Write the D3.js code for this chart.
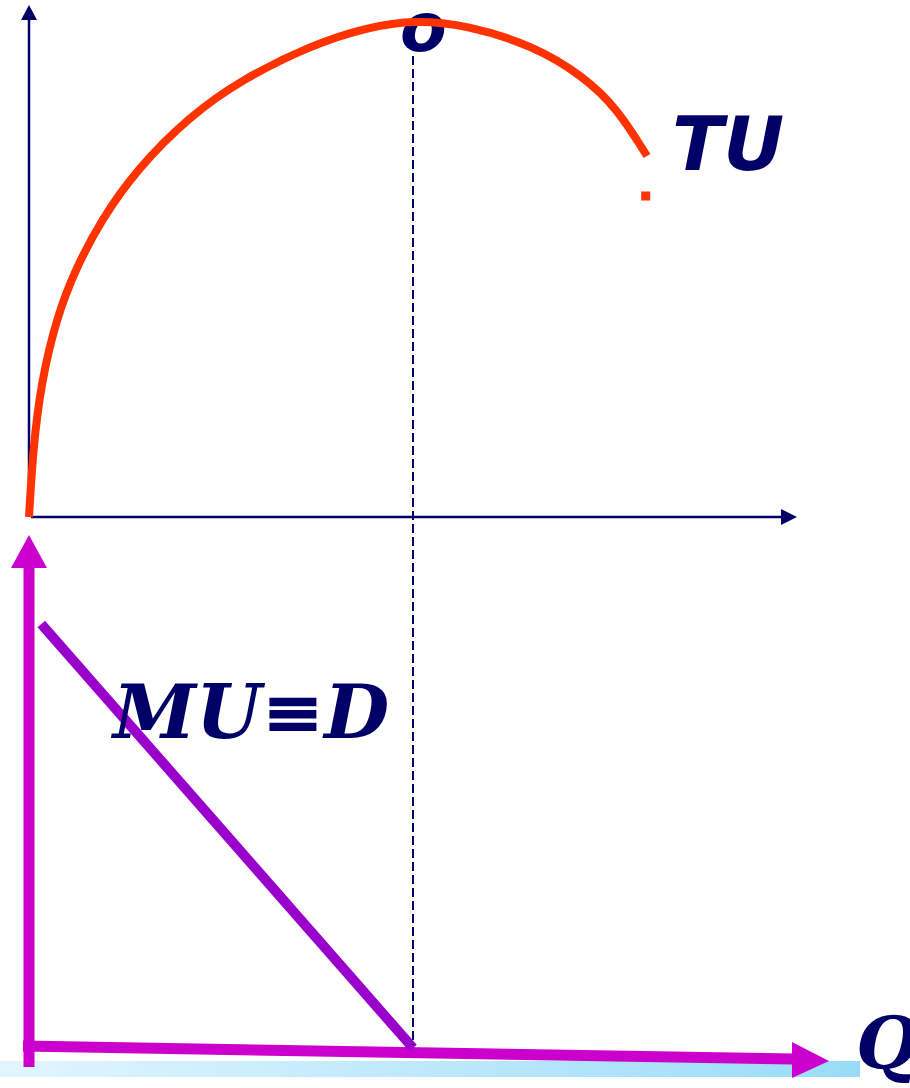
<!DOCTYPE html>
<html><head><meta charset="utf-8">
<script src="https://cdn.jsdelivr.net/npm/d3@7"></script>
<style>html,body{margin:0;padding:0;background:#fff;}svg{display:block;}</style>
</head><body>
<svg id="c" width="910" height="1088"></svg>
<script>
// ---- data ----
const tuQ = [0, 0.052, 0.156, 0.365, 0.612, 0.94, 1.406, 2.096, 2.76, 3.672, 4.414, 5.026, 5.703, 6.563, 7.214, 7.656, 8.047];
const tuU = [0, 13.4, 26.8, 40.2, 49.8, 59.4, 69.6, 80.2, 87.4, 94.4, 98, 99.4, 98.4, 94.3, 88.2, 81.8, 72.2];
const dotQ = [8.03];
const dotU = [64.2];
const muQ = [0.16, 5.0];
const muU = [84.8, 0];
const peakQ = 5.0;
const labels = ["o", "TU", "MU≡D", "Q"];

const svg = d3.select("#c");
const x = d3.scaleLinear().domain([0, 10]).range([29, 797]);
const yTop = d3.scaleLinear().domain([0, 100]).range([517, 17]);
const yBot = d3.scaleLinear().domain([0, 100]).range([1048, 548]);

const navy = "#000066", orange = "#FF3300", magenta = "#CC00CC", purple = "#9900CC";
const sans = "'DejaVu Sans', Verdana, sans-serif";
const serif = "'DejaVu Serif', serif";

// gradient bar
const defs = svg.append("defs");
const g = defs.append("linearGradient").attr("id", "bar").attr("x1", "0").attr("x2", "1").attr("y1", "0").attr("y2", "0");
g.append("stop").attr("offset", "0").attr("stop-color", "#E2F5FF");
g.append("stop").attr("offset", "1").attr("stop-color", "#99DCF8");
svg.append("rect").attr("x", 0).attr("y", 1061).attr("width", 860).attr("height", 16).attr("fill", "url(#bar)");

// ---- top panel axes ----
const x0 = x(0), yb = yTop(0);
svg.append("line").attr("x1", x0).attr("x2", x0).attr("y1", yb).attr("y2", 18)
  .attr("stroke", navy).attr("stroke-width", 2.5);
svg.append("path").attr("d", `M${x0},5 L${x0 - 8},20 L${x0 + 8},20 Z`).attr("fill", navy);
svg.append("line").attr("x1", x0 + 2).attr("x2", x(10) - 14).attr("y1", yb).attr("y2", yb)
  .attr("stroke", navy).attr("stroke-width", 2.5);
svg.append("path").attr("d", `M${x(10)},${yb} L${x(10) - 16},${yb - 8} L${x(10) - 16},${yb + 8} Z`).attr("fill", navy);

// ---- bottom panel axes (magenta) ----
const axY0 = 1046, axY1 = 1059, axEnd = 792;
svg.append("line").attr("x1", x0).attr("x2", x0).attr("y1", 1067).attr("y2", 566)
  .attr("stroke", magenta).attr("stroke-width", 11);
svg.append("path").attr("d", `M${x0},535 L${x0 - 18},568 L${x0 + 18},568 Z`).attr("fill", magenta);
svg.append("line").attr("x1", x0 - 6).attr("x2", axEnd + 2).attr("y1", axY0).attr("y2", axY1)
  .attr("stroke", magenta).attr("stroke-width", 11);
svg.append("path").attr("d", `M829,1061 L${axEnd},1042 L${axEnd},1078 Z`).attr("fill", magenta);

// ---- MU line ----
svg.append("path")
  .datum(muQ.map((q, i) => [q, muU[i]]))
  .attr("d", d3.line().x(d => x(d[0])).y(d => yBot(d[1])))
  .attr("fill", "none").attr("stroke", purple).attr("stroke-width", 10);

// ---- dashed vertical ----
svg.append("line").attr("x1", x(peakQ)).attr("x2", x(peakQ)).attr("y1", 56).attr("y2", 1045)
  .attr("stroke", navy).attr("stroke-width", 2).attr("stroke-dasharray", "9,4");

// "o" label (under the curve)
svg.append("text").attr("x", 400).attr("y", 51).text(labels[0])
  .attr("font-family", sans).attr("font-weight", "bold").attr("font-style", "italic")
  .attr("font-size", 68).attr("fill", navy);

// ---- TU curve ----
svg.append("path")
  .datum(tuQ.map((q, i) => [q, tuU[i]]))
  .attr("d", d3.line().x(d => x(d[0])).y(d => yTop(d[1])).curve(d3.curveBasis))
  .attr("fill", "none").attr("stroke", orange).attr("stroke-width", 8);
svg.selectAll("rect.dot").data(dotQ).enter().append("rect").attr("class", "dot")
  .attr("x", (d) => x(d) - 4.5).attr("y", (d, i) => yTop(dotU[i]) - 4.5)
  .attr("width", 9).attr("height", 9).attr("fill", orange);

// ---- labels ----
svg.append("text").attr("x", 672).attr("y", 170).text(labels[1])
  .attr("font-family", sans).attr("font-weight", "bold").attr("font-style", "italic")
  .attr("font-size", 75).attr("fill", navy);
svg.append("text").attr("x", 113).attr("y", 738).text(labels[2])
  .attr("font-family", serif).attr("font-weight", "bold").attr("font-style", "italic")
  .attr("font-size", 75).attr("fill", navy);
svg.append("text").attr("x", 856).attr("y", 1069).text(labels[3])
  .attr("font-family", serif).attr("font-weight", "bold").attr("font-style", "italic")
  .attr("font-size", 72).attr("fill", navy);
</script>
</body></html>
